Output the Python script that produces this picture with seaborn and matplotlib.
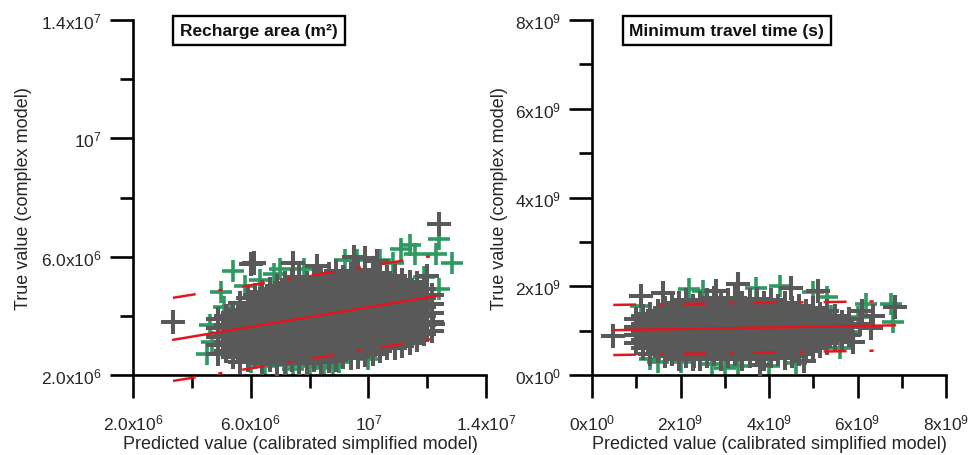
import matplotlib
matplotlib.use("Agg")
import matplotlib.pyplot as plt
import seaborn as sns
import pandas as pd
from matplotlib.ticker import FixedLocator

# ---------------- data ----------------
# left panel: recharge area, units of 1e6 m2
ra_gray_cols = [4.90, 5.15, 5.40, 5.65, 5.90, 6.15, 6.40, 6.65, 6.90, 7.15,
                7.40, 7.65, 7.90, 8.15, 8.40, 8.65, 8.90, 9.15, 9.40, 9.65,
                9.90, 10.15, 10.40, 10.65, 10.90, 11.15, 11.40, 11.65, 11.90, 12.15]
ra_gray_rows = [
    [2.72, 3.0, 3.3, 3.6, 3.88],
    [2.8, 3.1, 3.4, 3.7, 4.0],
    [2.6, 2.9, 3.2, 3.5, 3.8, 4.1],
    [2.45, 2.7, 3.0, 3.3, 3.6, 3.9, 4.2, 4.42],
    [2.5, 2.8, 3.1, 3.4, 3.7, 4.0, 4.3, 4.6],
    [2.6, 2.9, 3.2, 3.5, 3.8, 4.1, 4.4, 4.7],
    [2.4, 2.7, 3.0, 3.3, 3.6, 3.9, 4.2, 4.5, 4.8],
    [2.5, 2.8, 3.1, 3.4, 3.7, 4.0, 4.3, 4.6, 4.9],
    [2.38, 2.6, 2.9, 3.2, 3.5, 3.8, 4.1, 4.4, 4.7, 5.0],
    [2.4, 2.7, 3.0, 3.3, 3.6, 3.9, 4.2, 4.5, 4.8, 5.1],
    [2.5, 2.8, 3.1, 3.4, 3.7, 4.0, 4.3, 4.6, 4.9, 5.2],
    [2.4, 2.6, 2.9, 3.2, 3.5, 3.8, 4.1, 4.4, 4.7, 5.0, 5.3],
    [2.4, 2.7, 3.0, 3.3, 3.6, 3.9, 4.2, 4.5, 4.8, 5.1],
    [2.5, 2.8, 3.1, 3.4, 3.7, 4.0, 4.3, 4.6, 4.9, 5.2],
    [2.45, 2.6, 2.9, 3.2, 3.5, 3.8, 4.1, 4.4, 4.7, 5.0, 5.3],
    [2.48, 2.7, 3.0, 3.3, 3.6, 3.9, 4.2, 4.5, 4.8, 5.1, 5.4],
    [2.5, 2.8, 3.1, 3.4, 3.7, 4.0, 4.3, 4.6, 4.9, 5.2, 5.5],
    [2.6, 2.9, 3.2, 3.5, 3.8, 4.1, 4.4, 4.7, 5.0, 5.3],
    [2.58, 2.7, 3.0, 3.3, 3.6, 3.9, 4.2, 4.5, 4.8, 5.1, 5.4],
    [2.62, 2.8, 3.1, 3.4, 3.7, 4.0, 4.3, 4.6, 4.9, 5.2, 5.5],
    [2.68, 2.9, 3.2, 3.5, 3.8, 4.1, 4.4, 4.7, 5.0, 5.3, 5.55],
    [2.7, 3.0, 3.3, 3.6, 3.9, 4.2, 4.5, 4.8, 5.1, 5.4],
    [2.8, 3.1, 3.4, 3.7, 4.0, 4.3, 4.6, 4.9, 5.2, 5.45],
    [2.9, 3.2, 3.5, 3.8, 4.1, 4.4, 4.7, 5.0, 5.3],
    [2.9, 3.0, 3.3, 3.6, 3.9, 4.2, 4.5, 4.8, 5.1, 5.35],
    [2.98, 3.1, 3.4, 3.7, 4.0, 4.3, 4.6, 4.9, 5.2],
    [3.08, 3.2, 3.5, 3.8, 4.1, 4.4, 4.7, 5.0, 5.15],
    [3.2, 3.3, 3.6, 3.9, 4.2, 4.5, 4.8, 5.1],
    [3.4, 3.7, 4.0, 4.3, 4.6, 4.9],
    [3.5, 3.8, 4.1, 4.4, 4.7],
]
ra_gray_out_x = [3.36, 12.4, 6.1, 7.45, 8.25, 9.5, 12.0, 12.2, 11.65, 6.0, 9.9, 10.3]
ra_gray_out_y = [3.8, 7.1, 5.8, 5.8, 5.7, 6.0, 5.36, 3.74, 3.22, 5.75, 5.95, 5.85]
ra_green_x = [4.5, 4.6, 4.7, 5.0, 5.4, 5.3, 6.0, 6.3, 7.45, 7.2, 8.8, 8.5, 10.0,
              10.6, 9.6, 10.85, 11.1, 11.4, 11.6, 12.3, 12.4, 12.85, 12.2, 12.4,
              12.1, 5.8, 6.8, 7.8, 9.2, 10.4, 11.9, 11.8, 5.1, 8.0, 9.0, 6.5, 7.0]
ra_green_y = [2.7, 3.7, 3.1, 4.8, 5.53, 3.3, 2.44, 5.2, 2.2, 2.35, 2.3, 2.25, 2.54,
              3.0, 5.9, 5.8, 6.27, 6.4, 6.1, 6.1, 6.6, 5.8, 3.8, 4.9,
              4.4, 5.0, 5.4, 5.6, 5.9, 5.9, 5.3, 3.5, 4.3, 2.3, 2.45, 2.3, 5.6]
ra_fit_x = [3.36, 12.35]
ra_fit_y = [3.19, 4.68]
ra_band_x = [3.36, 12.2]
ra_upper_y = [4.61, 6.03]
ra_lower_y = [1.80, 3.22]

# right panel: minimum travel time, units of 1e9 s
tt_gray_cols = [1.00, 1.16, 1.32, 1.48, 1.64, 1.80, 1.96, 2.12, 2.28, 2.44, 2.60,
                2.76, 2.92, 3.08, 3.24, 3.40, 3.56, 3.72, 3.88, 4.04, 4.20, 4.36,
                4.52, 4.68, 4.84, 5.00, 5.16, 5.32, 5.48, 5.64, 5.80]
tt_gray_rows = [
    [0.72, 0.90, 1.08, 1.26],
    [0.60, 0.78, 0.96, 1.14, 1.32],
    [0.48, 0.66, 0.84, 1.02, 1.20, 1.38],
    [0.54, 0.72, 0.90, 1.08, 1.26, 1.44],
    [0.42, 0.60, 0.78, 0.96, 1.14, 1.32, 1.50],
    [0.48, 0.66, 0.84, 1.02, 1.20, 1.38, 1.56],
    [0.36, 0.54, 0.72, 0.90, 1.08, 1.26, 1.44, 1.62],
    [0.42, 0.60, 0.78, 0.96, 1.14, 1.32, 1.50, 1.68],
    [0.36, 0.48, 0.66, 0.84, 1.02, 1.20, 1.38, 1.56],
    [0.36, 0.54, 0.72, 0.90, 1.08, 1.26, 1.44, 1.62],
    [0.42, 0.60, 0.78, 0.96, 1.14, 1.32, 1.50, 1.68],
    [0.48, 0.66, 0.84, 1.02, 1.20, 1.38, 1.56, 1.74],
    [0.36, 0.54, 0.72, 0.90, 1.08, 1.26, 1.44, 1.62],
    [0.42, 0.60, 0.78, 0.96, 1.14, 1.32, 1.50, 1.68],
    [0.48, 0.66, 0.84, 1.02, 1.20, 1.38, 1.56, 1.74],
    [0.36, 0.54, 0.72, 0.90, 1.08, 1.26, 1.44, 1.62],
    [0.42, 0.60, 0.78, 0.96, 1.14, 1.32, 1.50, 1.68],
    [0.48, 0.66, 0.84, 1.02, 1.20, 1.38, 1.56, 1.72],
    [0.36, 0.54, 0.72, 0.90, 1.08, 1.26, 1.44, 1.62],
    [0.42, 0.60, 0.78, 0.96, 1.14, 1.32, 1.50, 1.68],
    [0.48, 0.66, 0.84, 1.02, 1.20, 1.38, 1.56],
    [0.38, 0.54, 0.72, 0.90, 1.08, 1.26, 1.44, 1.62],
    [0.42, 0.60, 0.78, 0.96, 1.14, 1.32, 1.50],
    [0.48, 0.66, 0.84, 1.02, 1.20, 1.38, 1.56],
    [0.54, 0.72, 0.90, 1.08, 1.26, 1.44],
    [0.60, 0.78, 0.96, 1.14, 1.32, 1.50],
    [0.66, 0.84, 1.02, 1.20, 1.38],
    [0.72, 0.90, 1.08, 1.26, 1.44],
    [0.78, 0.96, 1.14, 1.32],
    [0.84, 1.02, 1.20],
    [0.90, 1.08, 1.26],
]
tt_gray_out_x = [0.48, 3.3, 5.1, 6.85, 6.35, 6.05, 5.9, 4.8, 2.3, 6.3, 6.1, 1.6, 4.5, 2.8, 3.8, 1.1]
tt_gray_out_y = [0.88, 2.05, 1.9, 1.53, 1.33, 1.15, 0.74, 0.32, 0.43, 1.05, 1.45, 1.85, 1.95, 1.9, 0.22, 1.78]
tt_green_x = [6.8, 6.75, 2.2, 4.25, 3.3, 2.0, 5.0, 5.4, 5.8, 6.0, 1.3, 1.1, 2.7, 4.6,
              5.6, 3.7, 2.5, 6.2, 1.5, 3.0, 4.0, 5.3]
tt_green_y = [1.19, 1.6, 1.94, 2.0, 0.2, 0.29, 1.87, 1.33, 0.97, 1.3, 0.35, 1.55, 0.25, 0.27,
              0.6, 1.95, 1.9, 1.6, 0.3, 0.15, 0.2, 1.75]
tt_fit_x = [0.48, 6.85]
tt_fit_y = [1.01, 1.12]
tt_band_x = [0.48, 6.45]
tt_upper_y = [1.58, 1.66]
tt_lower_y = [0.45, 0.55]

ra_ticks = [2e6, 6e6, 1e7, 1.4e7]
ra_labels = ["2.0x10$^{6}$", "6.0x10$^{6}$", "10$^{7}$", "1.4x10$^{7}$"]
ra_minor = [4e6, 8e6, 1.2e7]
tt_ticks = [0, 2e9, 4e9, 6e9, 8e9]
tt_labels = ["0x10$^{0}$", "2x10$^{9}$", "4x10$^{9}$", "6x10$^{9}$", "8x10$^{9}$"]
tt_minor = [1e9, 3e9, 5e9, 7e9]

GRAY = "#595959"
GREEN = "#2e9a62"
RED = "#e3161e"
TXT = "#262626"


def expand(cols, rows, out_x, out_y, scale):
    xs, ys = [], []
    for c, r in zip(cols, rows):
        xs += [c] * len(r)
        ys += r
    xs += out_x
    ys += out_y
    return pd.DataFrame({"pred": [v * scale for v in xs], "true": [v * scale for v in ys]})


sns.set_style("ticks")
plt.rcParams["font.family"] = ["Liberation Sans", "DejaVu Sans"]
plt.rcParams["mathtext.fontset"] = "custom"
plt.rcParams["mathtext.rm"] = "Liberation Sans"
plt.rcParams["mathtext.it"] = "Liberation Sans:italic"
plt.rcParams["lines.scale_dashes"] = False

fig = plt.figure(figsize=(9.71, 4.56), dpi=100)
ax1 = fig.add_axes([0.137, 0.1754, 0.3635, 0.7785])
ax2 = fig.add_axes([0.6097, 0.1754, 0.3646, 0.7785])

panels = [
    (ax1, 1e6, ra_gray_cols, ra_gray_rows, ra_gray_out_x, ra_gray_out_y, ra_green_x, ra_green_y,
     ra_fit_x, ra_fit_y, ra_band_x, ra_upper_y, ra_lower_y, (2e6, 1.4e7),
     ra_ticks, ra_labels, ra_minor, "Recharge area (m\u00b2)", 0.357, -0.31, 0.473),
    (ax2, 1e9, tt_gray_cols, tt_gray_rows, tt_gray_out_x, tt_gray_out_y, tt_green_x, tt_green_y,
     tt_fit_x, tt_fit_y, tt_band_x, tt_upper_y, tt_lower_y, (0, 8e9),
     tt_ticks, tt_labels, tt_minor, "Minimum travel time (s)", 0.381, -0.262, 0.5),
]

dash = (0, (16.5, 16.5, 3, 14.5))
for (ax, sc, gcols, grows, gox, goy, grx, gry, fx, fy, bx, uy, ly, lim,
     ticks, labels, minor, title, tx, ylx, xlx) in panels:
    gray = expand(gcols, grows, gox, goy, sc)
    green = pd.DataFrame({"pred": [v * sc for v in grx], "true": [v * sc for v in gry]})
    sns.scatterplot(data=green, x="pred", y="true", ax=ax, marker="+", s=260,
                    linewidth=2.6, color=GREEN, zorder=2)
    sns.scatterplot(data=gray, x="pred", y="true", ax=ax, marker="+", s=285,
                    linewidth=2.9, color=GRAY, zorder=3)
    ax.plot([v * sc for v in fx], [v * sc for v in fy], color=RED, lw=1.8,
            zorder=5, clip_on=False)
    ax.plot([v * sc for v in bx], [v * sc for v in uy], color=RED, lw=1.8,
            ls=dash, zorder=5, clip_on=False)
    ax.plot([v * sc for v in bx], [v * sc for v in ly], color=RED, lw=1.8,
            ls=dash, zorder=5, clip_on=False)

    ax.set_xlim(*lim)
    ax.set_ylim(*lim)
    ax.set_xticks(ticks, labels)
    ax.set_yticks(ticks, labels)
    ax.xaxis.set_minor_locator(FixedLocator(minor))
    ax.yaxis.set_minor_locator(FixedLocator(minor))
    ax.tick_params(which="major", length=16.5, width=1.9, labelsize=12.5,
                   color="black", labelcolor=TXT)
    ax.tick_params(which="minor", length=9.5, width=1.9, color="black")
    ax.tick_params(axis="x", which="major", pad=10.5)
    ax.tick_params(axis="y", which="major", pad=6)
    for side in ["top", "right"]:
        ax.spines[side].set_visible(False)
    for side in ["left", "bottom"]:
        ax.spines[side].set_linewidth(1.9)
        ax.spines[side].set_color("black")

    ax.set_xlabel("Predicted value (calibrated simplified model)", fontsize=13, color=TXT)
    ax.set_ylabel("True value (complex model)", fontsize=13, color=TXT, va="center")
    ax.xaxis.set_label_coords(xlx, -0.168)
    ax.yaxis.set_label_coords(ylx, 0.5)

    ax.text(tx, 0.97, title, transform=ax.transAxes, ha="center", va="center",
            fontsize=12.5, fontweight="bold", color="#111111",
            bbox=dict(boxstyle="square,pad=0.4", fc="white", ec="black", lw=1.7))

fig.savefig("out.png", dpi=100)
